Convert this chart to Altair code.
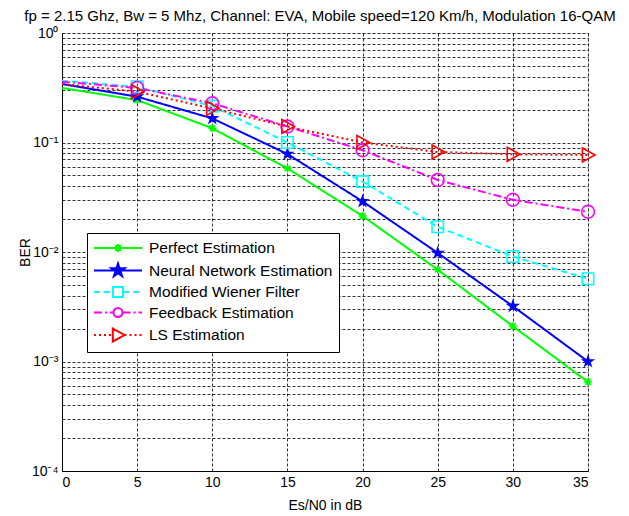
import math
import altair as alt
import pandas as pd

snr = [0, 5, 10, 15, 20, 25, 30, 35]
perfect = [0.315, 0.244, 0.135, 0.058, 0.0213, 0.0069, 0.0021, 0.00065]
neural = [0.342, 0.262, 0.166, 0.0785, 0.029, 0.0098, 0.0032, 0.0010]
wiener = [0.367, 0.323, 0.215, 0.100, 0.044, 0.017, 0.0091, 0.0057]
feedback = [0.359, 0.315, 0.228, 0.140, 0.085, 0.0455, 0.030, 0.0233]
ls_est = [0.342, 0.291, 0.205, 0.140, 0.100, 0.082, 0.078, 0.077]

names = ["Perfect Estimation", "Neural Network Estimation", "Modified Wiener Filter",
         "Feedback Estimation", "LS Estimation"]
colors = ["#00ff00", "#0000ff", "#00ffff", "#ff00ff", "#ff0000"]
fills = ["transparent", "#0000ff", "transparent", "transparent", "transparent"]
dashes = [[1, 0], [1, 0], [6, 4], [8, 3, 2, 3], [2, 3]]
marker_sizes = [64, 196, 100, 81, 169]

title_text = "fp = 2.15 Ghz, Bw = 5 Mhz, Channel: EVA, Mobile speed=120 Km/h, Modulation 16-QAM"

rows = []
for name, vals in zip(names, [perfect, neural, wiener, feedback, ls_est]):
    for x, v in zip(snr, vals):
        rows.append({"snr": x, "ber": v, "series": name})
df = pd.DataFrame(rows)


# ---- marker shapes (unit coordinates) ----
def star(r=1.0, ri=0.382, cx=0.0):
    pts = []
    for i in range(10):
        ang = -math.pi / 2 + i * math.pi / 5
        rr = r if i % 2 == 0 else r * ri
        pts.append((cx + rr * math.cos(ang), rr * math.sin(ang)))
    return "M" + "L".join(f"{x:.3f},{y:.3f}" for x, y in pts) + "Z"


def asterisk(r=1.0, cx=0.0):
    d = 0.7 * r
    return (f"M{cx - r:.3f},0H{cx + r:.3f}M{cx:.3f},{-r:.3f}V{r:.3f}"
            f"M{cx - d:.3f},{-d:.3f}L{cx + d:.3f},{d:.3f}M{cx - d:.3f},{d:.3f}L{cx + d:.3f},{-d:.3f}")


def square(r=1.0, cx=0.0):
    return f"M{cx - r:.3f},{-r:.3f}H{cx + r:.3f}V{r:.3f}H{cx - r:.3f}Z"


def circle(r=1.0, cx=0.0):
    return (f"M{cx + r:.3f},0A{r:.3f},{r:.3f} 0 1,1 {cx - r:.3f},0"
            f"A{r:.3f},{r:.3f} 0 1,1 {cx + r:.3f},0Z")


def tri_right(r=1.0, cx=0.0):
    return f"M{cx - 0.8 * r:.3f},{-r:.3f}L{cx + r:.3f},0L{cx - 0.8 * r:.3f},{r:.3f}Z"


plot_shapes = [asterisk(), star(), square(), circle(), tri_right()]

# legend symbols: line segment + marker. symbol box 16 px -> unit 8 px
SYM = 16.0
U = SYM / 2
L0 = -1.0                 # left end of the legend line
L1 = (48.0 - SYM / 2) / U  # right end (48 px long)
MC = (24.0 - SYM / 2) / U  # marker centre


def segs(a, b, pattern):
    if pattern == [1, 0]:
        return f"M{a:.3f},0H{b:.3f}"
    out = []
    pos = a
    i = 0
    while pos < b - 1e-6:
        L = pattern[i % len(pattern)] / U
        if i % 2 == 0:
            out.append(f"M{pos:.3f},0H{min(pos + L, b):.3f}")
        pos += L
        i += 1
    return "".join(out)


rs = [4 / U, 7 / U, 5 / U, 4.5 / U, 6.5 / U]
legend_shapes = [
    segs(L0, L1, [1, 0]) + asterisk(rs[0], MC),
    segs(L0, L1, [1, 0]) + star(rs[1], cx=MC),
    segs(L0, MC - rs[2], [6, 4]) + segs(MC + rs[2], L1, [6, 4]) + square(rs[2], MC),
    segs(L0, MC - rs[3], [8, 3, 2, 3]) + segs(MC + rs[3], L1, [8, 3, 2, 3]) + circle(rs[3], MC),
    segs(L0, MC - 0.8 * rs[4], [2, 3]) + segs(MC + rs[4], L1, [2, 3]) + tri_right(rs[4], MC),
]

grid_vals = [1.0]
for k in range(-1, -5, -1):
    for m in range(2, 10):
        grid_vals.append(m * 10.0 ** k)
    grid_vals.append(10.0 ** k)
grid_vals = sorted(grid_vals)

label_expr = ("datum.value > 0.9 ? '10⁰' : (datum.value > 0.099 && datum.value < 0.101) ? '10⁻¹' : "
              "(datum.value > 0.0099 && datum.value < 0.0101) ? '10⁻²' : "
              "(datum.value > 0.00099 && datum.value < 0.00101) ? '10⁻³' : "
              "(datum.value > 0.000099 && datum.value < 0.000101) ? '10⁻⁴' : ''")

FONT = "Liberation Sans"

xenc = alt.X("snr:Q", scale=alt.Scale(domain=[0, 35], nice=False, zero=False),
             axis=alt.Axis(values=snr, title="Es/N0 in dB", grid=True, gridDash=[3, 2],
                           gridColor="#000000", gridWidth=0.8, ticks=False,
                           labelFontSize=14, titleFontSize=14, labelFont=FONT, titleFont=FONT,
                           titleFontWeight="normal", labelPadding=4, titlePadding=9,
                           domainColor="#000000", labelColor="#000000", titleColor="#000000"))
yenc = alt.Y("ber:Q", scale=alt.Scale(type="log", domain=[1e-4, 1], nice=False),
             axis=alt.Axis(values=grid_vals, labelExpr=label_expr, title="BER", grid=True,
                           gridDash=[3, 2], gridColor="#000000", gridWidth=0.8, ticks=False,
                           labelFontSize=14, titleFontSize=14, labelFont=FONT, titleFont=FONT,
                           titleFontWeight="normal", labelPadding=4, titlePadding=-1,
                           domainColor="#000000", labelColor="#000000", titleColor="#000000"))

cscale = alt.Scale(domain=names, range=colors)

base = alt.Chart(df)

lines = base.mark_line(strokeWidth=2, clip=True).encode(
    x=xenc, y=yenc,
    color=alt.Color("series:N", scale=cscale, legend=None),
    strokeDash=alt.StrokeDash("series:N", scale=alt.Scale(domain=names, range=dashes), legend=None),
    order=alt.Order("snr:Q"),
)

points = base.mark_point(filled=False, strokeWidth=1.6, opacity=1).encode(
    x=xenc, y=yenc,
    color=alt.Color("series:N", scale=cscale, legend=None),
    fill=alt.Fill("series:N", scale=alt.Scale(domain=names, range=fills), legend=None),
    shape=alt.Shape("series:N", scale=alt.Scale(domain=names, range=plot_shapes), legend=None),
    size=alt.Size("series:N", scale=alt.Scale(domain=names, range=marker_sizes), legend=None),
).transform_filter("datum.snr > 0")

leg = alt.Legend(title=None, orient="none", legendX=25, legendY=200, strokeColor="#000000",
                 fillColor="#ffffff", padding=6, symbolSize=SYM * SYM, symbolStrokeWidth=2,
                 labelFontSize=15.5, labelFont=FONT, labelColor="#000000",
                 labelOffset=int(48 + 6 - SYM), labelLimit=400, rowPadding=2.5, symbolOpacity=1)

legend_layer = base.mark_point(filled=False, strokeWidth=2).encode(
    x=xenc, y=yenc,
    color=alt.Color("series:N", scale=cscale, legend=leg),
    fill=alt.Fill("series:N", scale=alt.Scale(domain=names, range=fills), legend=leg),
    shape=alt.Shape("series:N", scale=alt.Scale(domain=names, range=legend_shapes), legend=leg),
).transform_filter("false")

chart = alt.layer(lines, points, legend_layer).resolve_scale(
    shape="independent"
).resolve_legend(
    color="independent", shape="independent", fill="independent"
).properties(
    width=526, height=438,
    title=alt.Title(title_text, fontSize=15, font=FONT, fontWeight="normal", color="#000000",
                    anchor="middle", frame="group", offset=2, dx=-5),
    autosize=alt.AutoSizeParams(type="none"),
    padding={"left": 54, "top": 25, "right": 33, "bottom": 40},
).configure_view(stroke="#000000", strokeWidth=1).configure(background="#ffffff")

chart.save("out.html", embed_options={"renderer": "svg", "actions": False})
